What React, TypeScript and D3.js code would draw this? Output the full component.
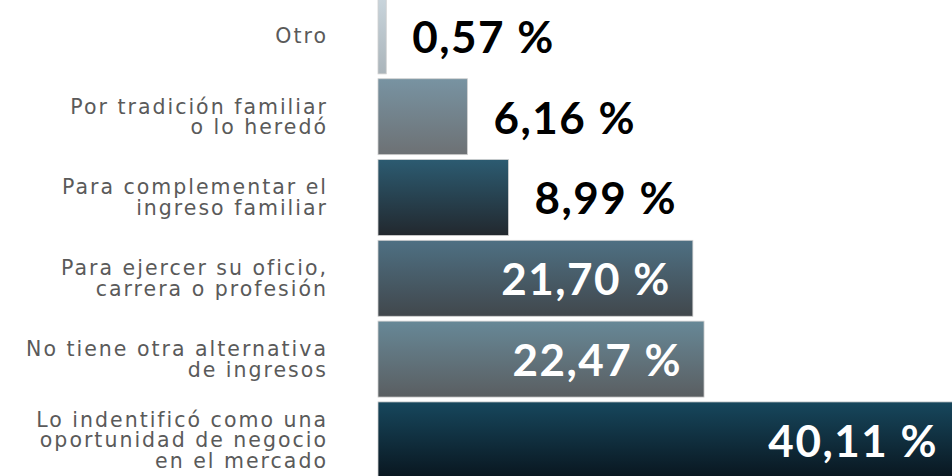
import React from "react";
import * as d3 from "d3";

const categories = [
  "Otro",
  "Por tradición familiar\no lo heredó",
  "Para complementar el\ningreso familiar",
  "Para ejercer su oficio,\ncarrera o profesión",
  "No tiene otra alternativa\nde ingresos",
  "Lo indentificó como una\noportunidad de negocio\nen el mercado",
];
const values = [0.57, 6.16, 8.99, 21.7, 22.47, 40.11];
const valueLabels = ["0,57 %", "6,16 %", "8,99 %", "21,70 %", "22,47 %", "40,11 %"];

// top / bottom colours of each bar's gradient
const gradTop = ["#c9d5dc", "#7893a2", "#2c5b71", "#4e7083", "#678897", "#17475d"];
const gradBottom = ["#aab4ba", "#6d7174", "#22282e", "#41474c", "#5a5e61", "#09161f"];

const WIDTH = 952;
const HEIGHT = 476;
const BAR_LEFT = 378;
const LABEL_RIGHT = 328;

export default function App() {
  const y = d3
    .scaleBand<string>()
    .domain(categories)
    .range([-4.5, 480.3])
    .paddingInner(0.06)
    .paddingOuter(0.03);

  const x = d3
    .scaleLinear()
    .domain([0, d3.max(values) as number])
    .range([BAR_LEFT, 960]);

  const rows = categories.map((c, i) => ({
    name: c,
    lines: c.split("\n"),
    value: values[i],
    label: valueLabels[i],
    i,
  }));

  return (
    <svg
      width={WIDTH}
      height={HEIGHT}
      style={{ position: "absolute", left: 0, top: 0, display: "block" }}
    >
      <defs>
        {rows.map((r) => (
          <linearGradient key={r.i} id={"g" + r.i} x1="0" y1="0" x2="0" y2="1">
            <stop offset="0%" stopColor={gradTop[r.i]} />
            <stop offset="100%" stopColor={gradBottom[r.i]} />
          </linearGradient>
        ))}
      </defs>
      {rows.map((r) => {
        const y0 = y(r.name) as number;
        const h = y.bandwidth();
        const cy = y0 + h / 2;
        const xEnd = x(r.value);
        const inside = r.value > 15;
        const lineH = 20.5;
        const firstY = cy - ((r.lines.length - 1) * lineH) / 2;
        return (
          <g key={r.i}>
            <rect
              x={BAR_LEFT}
              y={y0}
              width={xEnd - BAR_LEFT}
              height={h}
              fill={`url(#g${r.i})`}
              stroke="#d0d0d0"
              strokeWidth={0.8}
            />
            <text
              fontFamily="'DejaVu Sans', sans-serif"
              fontSize={20.5}
              letterSpacing={2}
              fill="#5a5a5a"
              textAnchor="end"
            >
              {r.lines.map((ln, k) => (
                <tspan key={k} x={LABEL_RIGHT} y={firstY + k * lineH} dy="0.35em">
                  {ln}
                </tspan>
              ))}
            </text>
            <text
              x={inside ? xEnd - 22 : xEnd + 26}
              y={cy + 1}
              dy="0.36em"
              textAnchor={inside ? "end" : "start"}
              fontFamily="Lato, sans-serif"
              fontWeight="bold"
              fontSize={44}
              letterSpacing={1.5}
              fill={inside ? "#ffffff" : "#000000"}
            >
              {r.label}
            </text>
          </g>
        );
      })}
    </svg>
  );
}
